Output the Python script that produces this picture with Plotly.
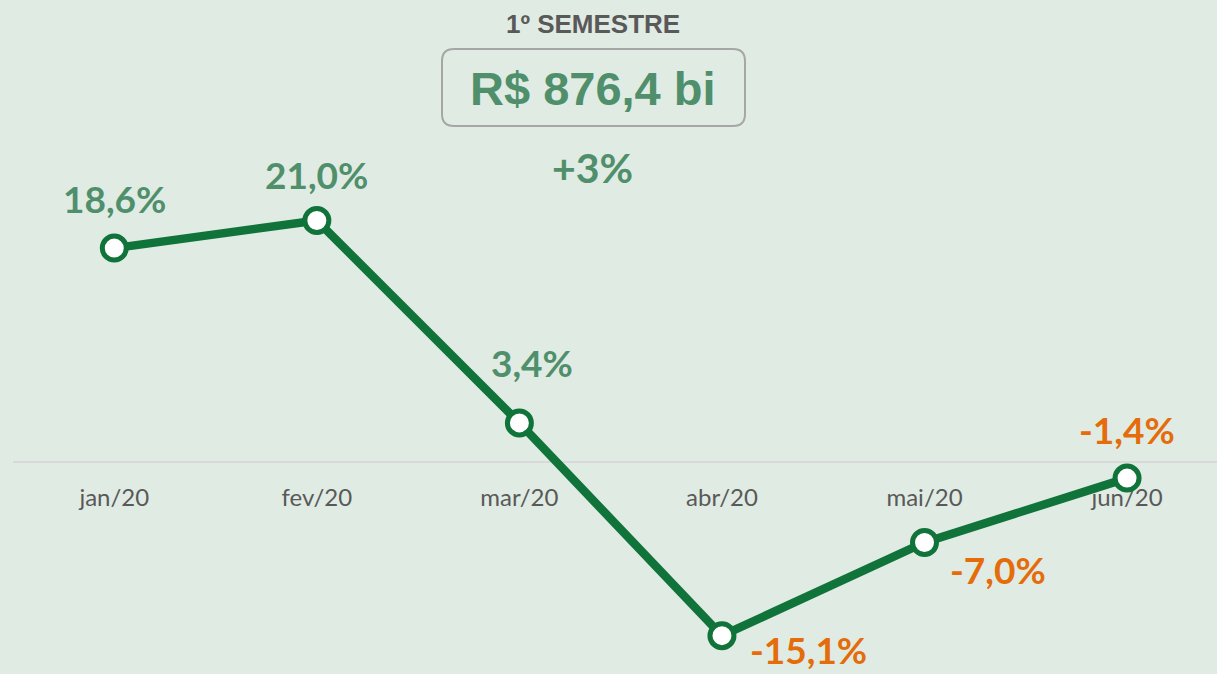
import plotly.graph_objects as go

# ---- data ----
months = ["jan/20", "fev/20", "mar/20", "abr/20", "mai/20", "jun/20"]
growth = [18.6, 21.0, 3.4, -15.1, -7.0, -1.4]
value_labels = ["18,6%", "21,0%", "3,4%", "-15,1%", "-7,0%", "-1,4%"]
title_text = "1º SEMESTRE"
total_text = "R$ 876,4 bi"
total_growth_text = "+3%"

# ---- style ----
W, H = 1217, 674
ML = 13
BG = "#E0EBE3"
LINE = "#0F733A"
GREEN_TXT = "#4F8F6B"
ORANGE = "#E46C0A"
GRAY = "#595959"

# label offsets (pixels) relative to each point
label_dx = [0, 0, 13, 87, 73, 0]
label_dy = [50, 46, 60, -14, -27, 49]

def px(x):
    return (x - ML) / (W - ML)

def py(y):
    return 1 - y / H

fig = go.Figure()
fig.add_trace(go.Scatter(
    x=list(range(len(months))), y=growth, mode="lines+markers",
    line=dict(color=LINE, width=8.5),
    marker=dict(size=24, color="white", line=dict(color=LINE, width=5)),
    hoverinfo="skip", cliponaxis=False,
))

annotations = []
for i, (v, t) in enumerate(zip(growth, value_labels)):
    annotations.append(dict(
        x=i, y=v, xref="x", yref="y", text=f"<b>{t}</b>", showarrow=False,
        xanchor="center", yanchor="middle",
        xshift=label_dx[i], yshift=label_dy[i],
        font=dict(family="Lato", size=37, color=GREEN_TXT if v >= 0 else ORANGE),
    ))

def top_text(x, y, text, family, size, color):
    return dict(x=px(x), y=py(y), xref="paper", yref="paper", text=f"<b>{text}</b>",
                showarrow=False, xanchor="center", yanchor="middle",
                font=dict(family=family, size=size, color=color))

annotations.append(top_text(593, 24, title_text, "Liberation Sans", 26, GRAY))
annotations.append(top_text(593, 89, total_text, "Liberation Sans", 47, GREEN_TXT))
annotations.append(top_text(592, 167, total_growth_text, "Lato", 41, GREEN_TXT))

# rounded box
x0, x1, y0, y1, r = 442, 745, 49, 126, 12
rx = r / (W - ML)
ry = r / H
X0, X1, Y0, Y1 = px(x0), px(x1), py(y1), py(y0)
path = (f"M {X0+rx} {Y1} L {X1-rx} {Y1} Q {X1} {Y1} {X1} {Y1-ry} "
        f"L {X1} {Y0+ry} Q {X1} {Y0} {X1-rx} {Y0} L {X0+rx} {Y0} "
        f"Q {X0} {Y0} {X0} {Y0+ry} L {X0} {Y1-ry} Q {X0} {Y1} {X0+rx} {Y1} Z")

fig.update_layout(
    width=W, height=H,
    margin=dict(l=ML, r=0, t=0, b=0),
    paper_bgcolor=BG, plot_bgcolor=BG,
    showlegend=False,
    annotations=annotations,
    shapes=[dict(type="path", path=path, xref="paper", yref="paper",
                 line=dict(color="#A6A6A6", width=2), fillcolor="rgba(0,0,0,0)")],
    xaxis=dict(
        range=[-0.5, 5.444], tickmode="array", tickvals=list(range(len(months))),
        ticktext=months, showgrid=False, zeroline=False,
        showline=True, linecolor="#D9D9D9", linewidth=2,
        anchor="free", position=(H - 462) / H,
        ticks="", ticklabelstandoff=14, layer="below traces",
        tickfont=dict(family="Lato", size=24, color=GRAY),
    ),
    yaxis=dict(range=[-212 / 11.5, 462 / 11.5], visible=False, showgrid=False, zeroline=False),
)

fig.write_html("out.html",
               config={"displayModeBar": False},
               post_script="document.body.style.margin='0';document.body.style.background='" + BG + "';")
